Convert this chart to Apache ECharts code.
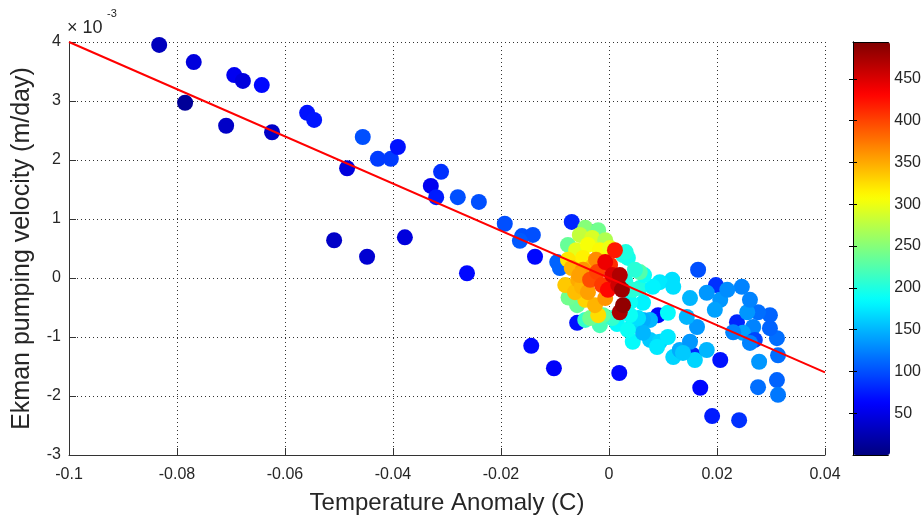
<!DOCTYPE html>
<html>
<head>
<meta charset="utf-8">
<script src="https://cdn.jsdelivr.net/npm/echarts@6/dist/echarts.min.js"></script>
<style>
  html, body { margin: 0; padding: 0; background: #fff; }
  #chart { width: 924px; height: 520px; }
</style>
</head>
<body>
<div id="chart"></div>
<script>
// Temperature anomaly (C) of each sample
const tempAnomaly = [
  -0.0833, -0.0769, -0.0694, -0.0678, -0.0643, -0.0785, -0.0709, -0.0624, -0.0559, -0.0546,
  -0.0456, -0.0428, -0.0404, -0.0391, -0.0485, -0.0311, -0.0330, -0.0320, -0.0280, -0.0241,
  -0.0193, -0.0509, -0.0448, -0.0378, -0.0263,
  -0.0069, -0.0161, -0.0141, -0.0165, -0.0137, -0.0096, -0.0091, -0.0035, -0.0059, -0.0144,
  -0.0102, 0.0019,
  0.0091, 0.0165, 0.0198, 0.0237, 0.0156, 0.0206, 0.0169, 0.0191, 0.0241, 0.0276,
  0.0311, 0.0313, 0.0278, 0.0313, 0.0311, 0.0298, 0.0298, 0.0276, 0.0256, 0.0261,
  0.0246, 0.0267, 0.0248, 0.0270, 0.0261, 0.0230,
  0.0181, 0.0206, 0.0219, 0.0196, 0.0163, 0.0150, 0.0144, 0.0117, 0.0094, 0.0119,
  0.0109, 0.0076, 0.0063, 0.0076, 0.0094, 0.0109, 0.0119, 0.0131, 0.0159, 0.0181,
  0.0150, 0.0057, 0.0063, 0.0044, 0.0089, 0.0044, 0.0063, 0.0137, 0.0081, 0.0039,
  0.0054, 0.0039, 0.0015, 0.0035, 0.0030, 0.0065,
  0.0026, 0.0057, 0.0044, 0.0035, 0.0048, 0.0031, -0.0044, -0.0017, 0.0006, -0.0044,
  -0.0020, -0.0076, -0.0059, -0.0011, -0.0035, -0.0075, -0.0054, -0.0031, -0.0007, -0.0061,
  -0.0039, -0.0017, -0.0048, 0.0002, -0.0076, -0.0020, -0.0044, -0.0081, -0.0063, -0.0069,
  -0.0026, -0.0030, -0.0057, -0.0050, -0.0039, -0.0007, -0.0048, -0.0055, -0.0024, -0.0035,
  -0.0022, -0.0013, 0.0002, 0.0011, -0.0002, -0.0007, 0.0006, 0.0017, 0.0020, 0.0020,
  0.0024, 0.0026
];

// Ekman pumping velocity, in units of 1e-3 m/day
const ekmanVel = [
  3.95, 3.66, 3.44, 3.34, 3.27, 2.97, 2.58, 2.47, 2.80, 2.68,
  2.39, 2.02, 2.02, 2.22, 1.86, 1.80, 1.56, 1.37, 1.37, 1.29,
  0.92, 0.64, 0.36, 0.69, 0.08,
  0.95, 0.71, 0.73, 0.63, 0.36, 0.27, 0.17, 0.78, -0.76, -1.15,
  -1.53, -1.61,
  -0.63, 0.14, -0.12, -0.75, -1.31, -1.39, -1.86, -2.34, -2.41, -1.85,
  -1.73, -1.98, -1.42, -1.31, -1.02, -0.85, -0.63, -0.58, -0.58, -0.37,
  -0.15, -0.83, -0.93, -1.05, -1.10, -0.92,
  -0.25, -0.37, -0.20, -0.54, -0.83, -0.34, -0.66, -0.03, -0.07, -0.15,
  -0.59, -0.71, -0.71, -1.05, -1.08, -1.00, -1.34, -1.22, -1.39, -1.22,
  -1.08, -0.17, -0.42, -1.08, -1.17, -0.80, -0.93, -1.27, -0.15, -0.41,
  -0.68, -0.63, -0.78, -0.88, -0.05, 0.05,
  0.39, 0.10, -0.20, 0.34, 0.14, 0.44, -0.71, -0.80, -0.68, 0.85,
  0.81, 0.56, -0.46, -0.63, -0.68, -0.33, 0.73, 0.68, 0.64, 0.47,
  0.56, 0.47, 0.34, 0.51, 0.31, -0.63, -0.37, -0.12, -0.24, 0.17,
  -0.46, 0.20, -0.03, -0.15, -0.24, -0.34, 0.14, 0.05, 0.31, -0.03,
  0.10, -0.12, 0.22, 0.47, -0.20, 0.27, 0.05, -0.12, 0.05, -0.58,
  -0.20, -0.46
];

// Colour variable of each sample
const sampleCount = [
  30, 45, 55, 45, 65, 12, 35, 35, 70, 72,
  100, 90, 90, 70, 45, 85, 55, 75, 100, 100,
  100, 35, 40, 45, 65,
  80, 100, 100, 105, 65, 110, 110, 85, 70, 65,
  60, 65,
  65, 100, 85, 80, 80, 70, 65, 75, 85, 115,
  110, 120, 135, 115, 115, 110, 110, 115, 135, 125,
  125, 125, 140, 95, 125, 125,
  135, 135, 130, 140, 135, 150, 150, 170, 175, 170,
  185, 150, 145, 160, 165, 175, 165, 145, 165, 150,
  135, 200, 180, 185, 175, 165, 150, 160, 180, 190,
  170, 190, 185, 190, 200, 190,
  200, 225, 205, 195, 205, 200, 210, 220, 210, 250,
  240, 235, 235, 230, 240, 240, 280, 290, 270, 295,
  305, 310, 315, 300, 320, 325, 330, 335, 340, 345,
  345, 340, 350, 345, 355, 360, 360, 355, 365, 395,
  400, 405, 410, 420, 430, 440, 450, 455, 470, 475,
  480, 485
];

// Least-squares fit line end points
const fitX = [-0.1, 0.04];
const fitY = [4, -1.6];

// Axis ranges and tick labels
const xRange = [-0.1, 0.04];
const yRange = [-3, 4];
const colorRange = [0, 494];
const colorTicks = [50, 100, 150, 200, 250, 300, 350, 400, 450];

// 64-step jet colormap
function jetColor(t) {
  const c = v => Math.round(255 * Math.max(0, Math.min(1, v)));
  const r = c(1.5 - Math.abs(4 * t - 3));
  const g = c(1.5 - Math.abs(4 * t - 2));
  const b = c(1.5 - Math.abs(4 * t - 1));
  return `rgb(${r},${g},${b})`;
}
const jet = [];
for (let i = 0; i < 64; i++) jet.push(jetColor(i / 63));

const points = tempAnomaly.map((x, i) => [x, ekmanVel[i], sampleCount[i]]);
const fitLine = fitX.map((x, i) => [x, fitY[i]]);

const FONT = "'Liberation Sans', Arial, Helvetica, sans-serif";
const TXT = '#262626';

const chart = echarts.init(document.getElementById('chart'), null, { renderer: 'canvas' });

const cbAxisCommon = {
  gridIndex: 1, type: 'value', min: colorRange[0], max: colorRange[1], z: 10,
  axisLine: { show: true, lineStyle: { color: '#000', width: 1 } },
  axisTick: { show: true, inside: true, length: 4, customValues: colorTicks, lineStyle: { color: '#000' } },
  splitLine: { show: false }
};

chart.setOption({
  animation: false,
  backgroundColor: '#fff',
  textStyle: { fontFamily: FONT },
  grid: [
    { left: 69, top: 42, right: 99, bottom: 65 },
    { left: 853, top: 42, width: 37, height: 413 }
  ],
  xAxis: [
    {
      gridIndex: 0, type: 'value', min: xRange[0], max: xRange[1], interval: 0.02,
      name: 'Temperature Anomaly (C)', nameLocation: 'middle', nameGap: 36,
      nameTextStyle: { fontSize: 24, color: TXT, fontFamily: FONT },
      axisLine: { show: true, onZero: false, lineStyle: { color: '#333', width: 1 } },
      axisTick: { show: true, inside: true, length: 7, lineStyle: { color: '#333' } },
      axisLabel: {
        fontSize: 16, color: TXT, margin: 12, fontFamily: FONT,
        formatter: v => String(+v.toFixed(2))
      },
      splitLine: { show: true, lineStyle: { color: '#333', type: [1, 3], width: 1 } }
    },
    {
      gridIndex: 1, type: 'value', min: 0, max: 1, position: 'bottom', z: 10,
      axisLine: { show: true, onZero: false, lineStyle: { color: '#000' } },
      axisTick: { show: false }, axisLabel: { show: false }, splitLine: { show: false }
    },
    {
      gridIndex: 1, type: 'value', min: 0, max: 1, position: 'top', z: 10,
      axisLine: { show: true, onZero: false, lineStyle: { color: '#000' } },
      axisTick: { show: false }, axisLabel: { show: false }, splitLine: { show: false }
    }
  ],
  yAxis: [
    {
      gridIndex: 0, type: 'value', min: yRange[0], max: yRange[1], interval: 1,
      name: 'Ekman pumping velocity (m/day)', nameLocation: 'middle', nameGap: 34,
      nameTextStyle: { fontSize: 25, color: TXT, fontFamily: FONT },
      axisLine: { show: true, onZero: false, lineStyle: { color: '#333', width: 1 } },
      axisTick: { show: true, inside: true, length: 7, lineStyle: { color: '#333' } },
      axisLabel: { fontSize: 16, color: TXT, margin: 8, fontFamily: FONT },
      splitLine: { show: true, lineStyle: { color: '#333', type: [1, 3], width: 1 } }
    },
    Object.assign({}, cbAxisCommon, {
      position: 'right',
      axisLabel: { show: true, customValues: colorTicks, fontSize: 16, color: TXT, margin: 6, fontFamily: FONT }
    }),
    Object.assign({}, cbAxisCommon, {
      position: 'left',
      axisLabel: { show: false }
    })
  ],
  visualMap: {
    type: 'continuous', min: colorRange[0], max: colorRange[1], dimension: 2, seriesIndex: 0,
    inRange: { color: jet }, calculable: false, hoverLink: false,
    orient: 'vertical', left: 853, top: 42, itemWidth: 37, itemHeight: 413,
    padding: 0, text: null, z: 4
  },
  series: [
    {
      type: 'scatter', xAxisIndex: 0, yAxisIndex: 0,
      symbol: 'circle', symbolSize: 16,
      itemStyle: { opacity: 1 },
      data: points, z: 2
    },
    {
      type: 'line', xAxisIndex: 0, yAxisIndex: 0,
      data: fitLine, symbol: 'none', silent: true,
      lineStyle: { color: '#ff0000', width: 2 }, z: 3
    }
  ],
  graphic: [
    { type: 'text', left: 67, top: 19, style: { text: '× 10', fontSize: 18, fill: TXT, fontFamily: FONT } },
    { type: 'text', left: 107, top: 8, style: { text: '-3', fontSize: 11, fill: TXT, fontFamily: FONT } }
  ]
});
</script>
</body>
</html>
